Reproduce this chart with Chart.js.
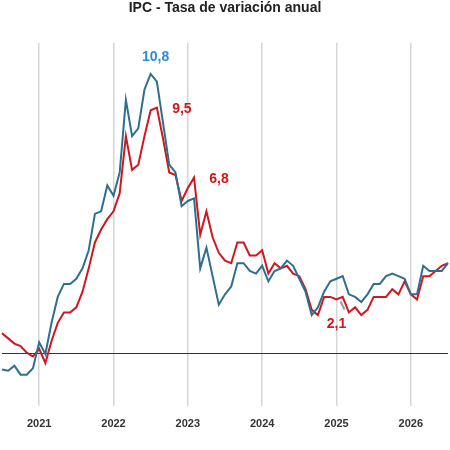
<!DOCTYPE html>
<html>
<head>
<meta charset="utf-8">
<script src="https://cdn.jsdelivr.net/npm/chart.js@4.4.1/dist/chart.umd.min.js"></script>
<style>
  html, body { margin: 0; padding: 0; background: #fff; }
  #wrap { width: 450px; height: 450px; }
</style>
</head>
<body>
<div id="wrap"><canvas id="ipc_canvas"></canvas></div>
<script>
// meses desde jul 2020 hasta jul 2026
const months = [];
for (let y = 2020; y <= 2026; y++) {
  for (let m = 1; m <= 12; m++) {
    if ((y === 2020 && m < 7) || (y === 2026 && m > 7)) continue;
    months.push(y + '-' + String(m).padStart(2, '0'));
  }
}

const ipcGeneral = [
  -0.6, -0.65, -0.45, -0.8, -0.8, -0.55,
  0.45, 0.0, 1.2, 2.2, 2.7, 2.7, 2.9, 3.3, 4.0, 5.4, 5.5, 6.5,
  6.1, 7.0, 9.8, 8.4, 8.7, 10.2, 10.8, 10.5, 8.9, 7.3, 7.0, 5.7,
  5.9, 6.0, 3.3, 4.1, 3.0, 1.9, 2.3, 2.6, 3.5, 3.5, 3.2, 3.1,
  3.4, 2.8, 3.2, 3.3, 3.6, 3.4, 2.9, 2.4, 1.5, 1.8, 2.4, 2.8,
  2.9, 3.0, 2.3, 2.2, 2.0, 2.3, 2.7, 2.7, 3.0, 3.1, 3.0, 2.9,
  2.3, 2.3, 3.4, 3.2, 3.2, 3.2, 3.5
];
const ipcSubyacente = [
  0.8, 0.6, 0.4, 0.3, 0.05, -0.1,
  0.2, -0.35, 0.5, 1.2, 1.6, 1.6, 1.8, 2.4, 3.3, 4.3, 4.8, 5.2,
  5.5, 6.2, 8.4, 7.1, 7.3, 8.4, 9.4, 9.5, 8.3, 7.0, 6.9, 5.9,
  6.4, 6.8, 4.6, 5.5, 4.5, 3.9, 3.6, 3.5, 4.3, 4.3, 3.8, 3.8,
  4.0, 3.1, 3.5, 3.3, 3.4, 3.1, 3.0, 2.5, 1.7, 1.5, 2.2, 2.2,
  2.1, 2.2, 1.6, 1.8, 1.5, 1.7, 2.2, 2.2, 2.2, 2.5, 2.3, 2.8,
  2.3, 2.1, 3.0, 3.0, 3.2, 3.4, 3.5
];

// etiquetas de valores destacados: [serie, mes, texto, dx, dy]
const labelPoints = [
  ['general', '2022-07', '10,8', 5, -17],
  ['sub', '2022-08', '9,5', 25, 2],
  ['sub', '2023-02', '6,8', 25, 2],
  ['sub', '2025-01', '2,1', 0, 25]
];

const blue = '#2f6f8e';
const red = '#d0161e';

const valueLabels = {
  id: 'valueLabels',
  afterDatasetsDraw(chart) {
    const c = chart.ctx;
    const xs = chart.scales.x, ys = chart.scales.y;
    c.save();
    c.font = 'bold 14px "Liberation Sans", Arial, sans-serif';
    c.textAlign = 'center';
    c.textBaseline = 'middle';
    labelPoints.forEach(([serie, mes, txt, dx, dy]) => {
      const i = months.indexOf(mes);
      const v = serie === 'general' ? ipcGeneral[i] : ipcSubyacente[i];
      const x = xs.getPixelForValue(i), y = ys.getPixelForValue(v);
      if (txt === '2,1') {
        // pequeña guía gris
        c.strokeStyle = '#999';
        c.lineWidth = 2;
        c.beginPath();
        c.moveTo(x + 4, y + 2);
        c.lineTo(x + 8, y + 10);
        c.stroke();
      }
      c.fillStyle = serie === 'general' ? '#2a8bd6' : red;
      c.fillText(txt, x + dx, y + dy);
    });
    c.restore();
  }
};

new Chart(document.getElementById('ipc_canvas'), {
  type: 'line',
  data: {
    labels: months,
    datasets: [
      { label: 'IPC general', data: ipcGeneral, borderColor: blue, borderWidth: 2, pointRadius: 0, tension: 0 },
      { label: 'IPC subyacente', data: ipcSubyacente, borderColor: red, borderWidth: 2, pointRadius: 0, tension: 0 }
    ]
  },
  options: {
    responsive: true,
    maintainAspectRatio: false,
    animation: false,
    layout: { padding: { left: 2, right: 2, top: 0, bottom: 7 } },
    scales: {
      x: {
        grid: {
          color: '#d6d6d6',   // solo quedan los ticks de enero
          lineWidth: 1.5,
          drawTicks: false
        },
        border: { display: false },
        ticks: {
          autoSkip: false,
          maxRotation: 0,
          padding: 12,
          color: '#333',
          font: { family: '"Liberation Sans", Arial, sans-serif', size: 11, weight: 'bold' },
          callback: (v, i) => months[i].endsWith('-01') ? months[i].slice(0, 4) : null
        }
      },
      y: {
        min: -2,
        max: 12,
        ticks: { display: false, stepSize: 1 },
        grid: {
          color: (ctx) => ctx.tick && ctx.tick.value === 0 ? '#333' : 'transparent',
          lineWidth: 1,
          drawTicks: false
        },
        border: { display: false }
      }
    },
    plugins: {
      legend: { display: false },
      tooltip: { enabled: false },
      title: {
        display: true,
        text: 'IPC - Tasa de variación anual',
        color: '#222',
        font: { family: '"Liberation Sans", Arial, sans-serif', size: 14, weight: 'bold' },
        padding: { top: 0, bottom: 26 }
      }
    }
  },
  plugins: [valueLabels]
});
</script>
</body>
</html>
